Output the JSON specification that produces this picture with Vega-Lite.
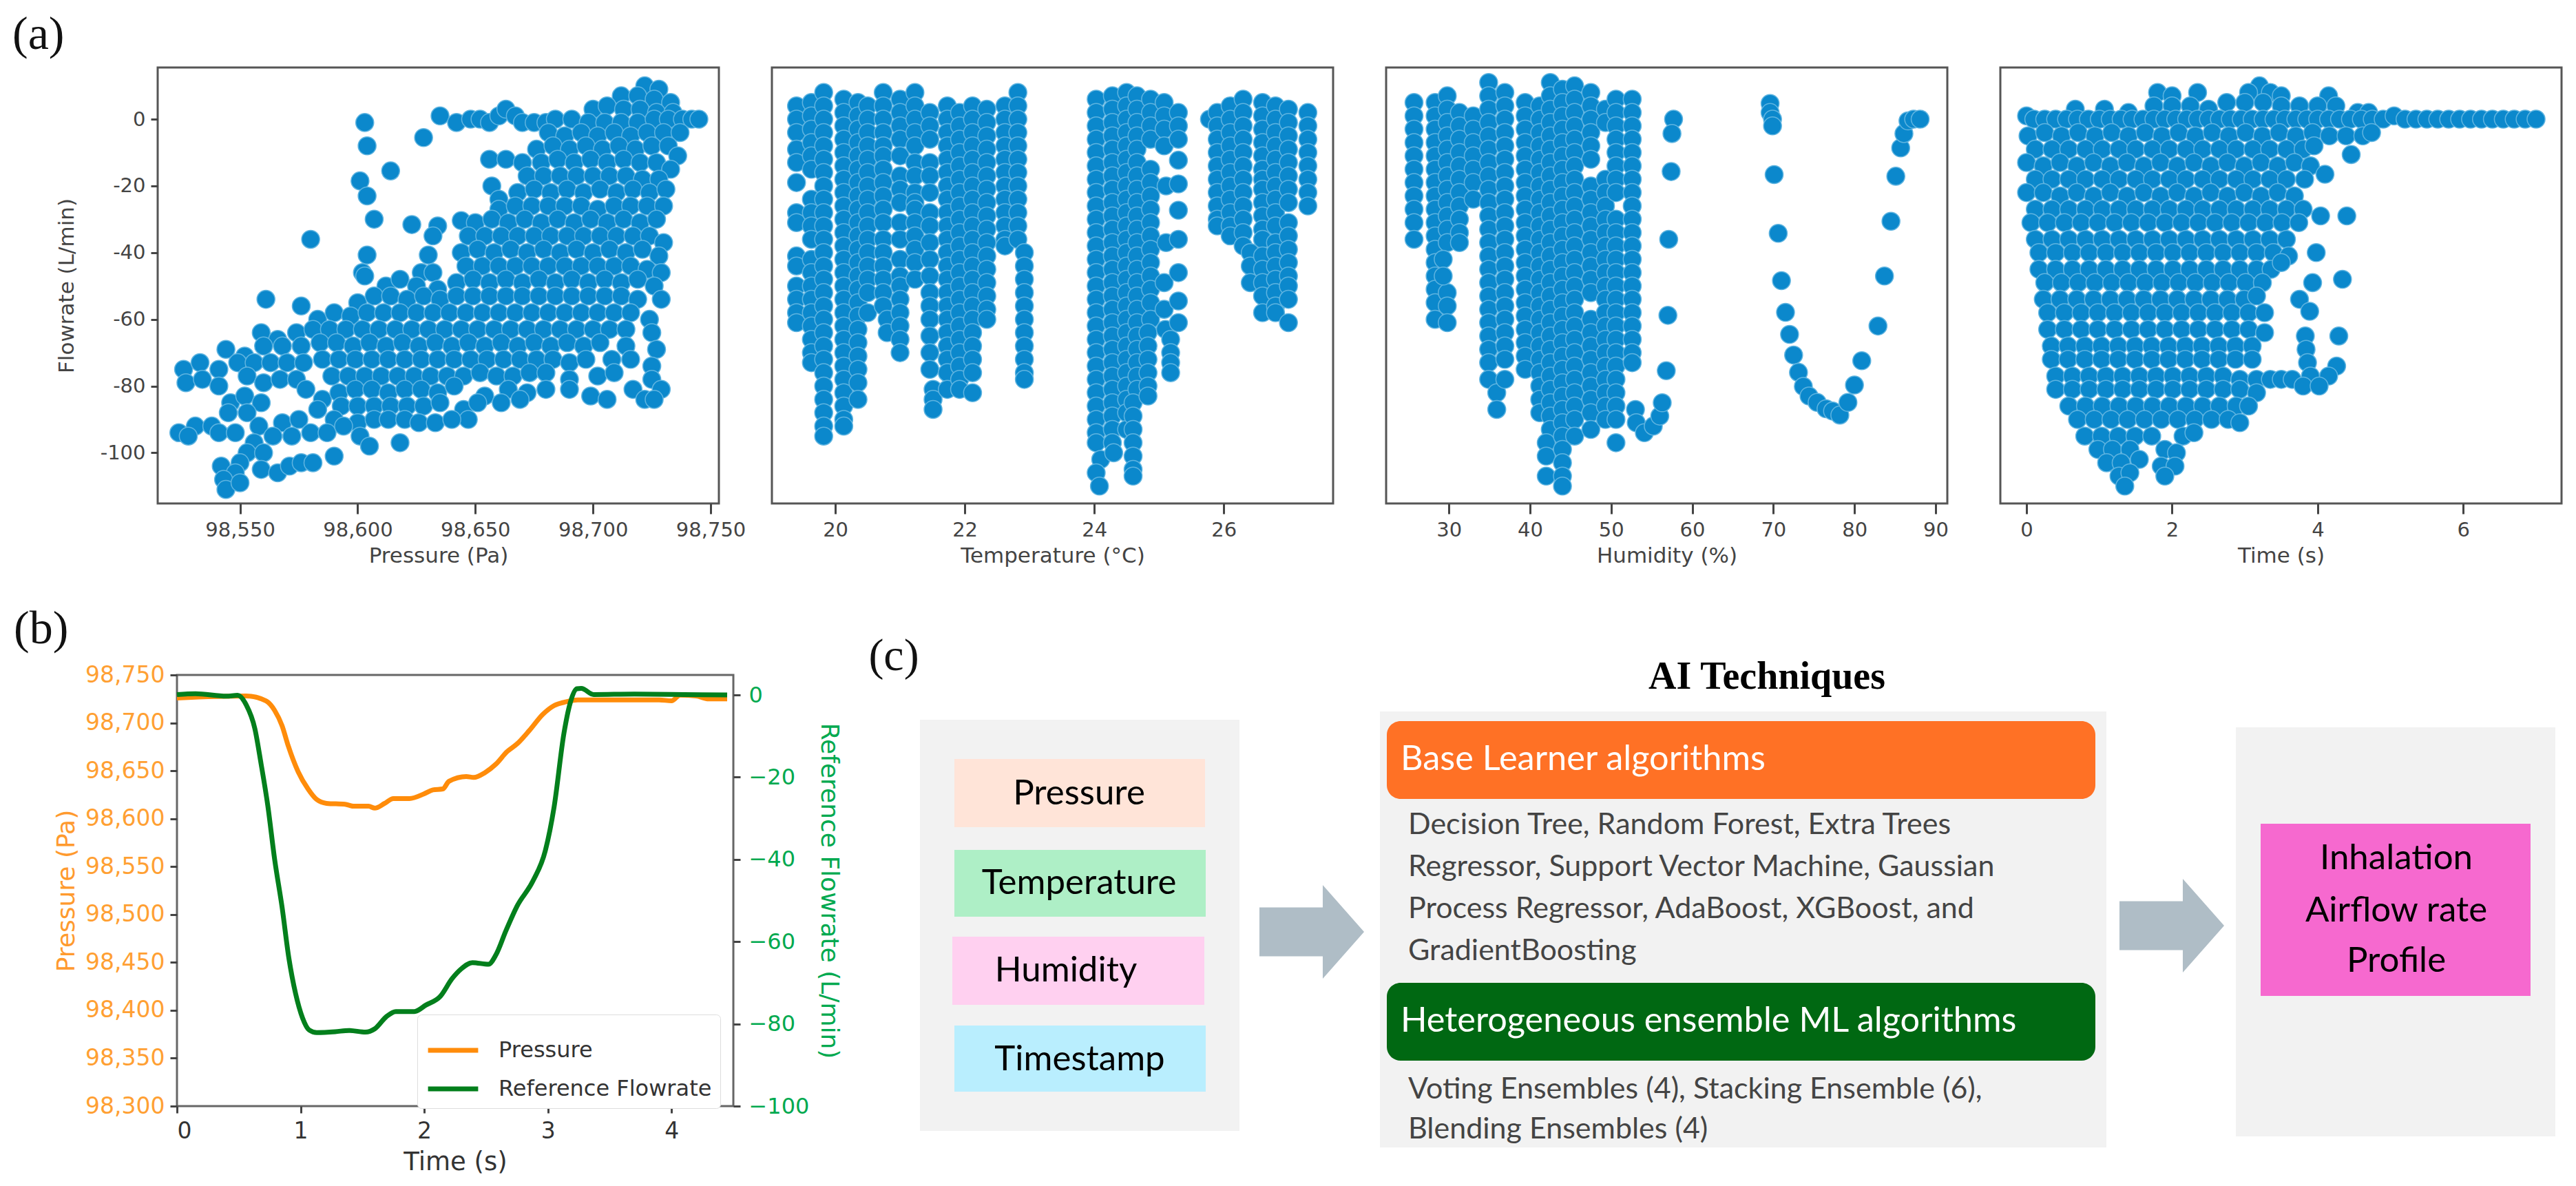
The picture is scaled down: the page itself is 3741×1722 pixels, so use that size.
{"$schema":"https://vega.github.io/schema/vega-lite/v6.json","background":"white","padding":{"left":0,"top":17,"right":0,"bottom":0},"spacing":56,"resolve":{"scale":{"color":"independent"},"legend":{"color":"independent"}},
"config":{"font":"DejaVu Sans","view":{"stroke":"#555","strokeWidth":3},"axis":{"grid":false,"domain":false,"tickColor":"#444","tickWidth":3,"tickSize":15,"labelColor":"#444","titleColor":"#444","labelFontSize":29,"titleFontSize":31,"titleFontWeight":"normal","labelPadding":9,"titlePadding":8}},
"datasets":{
"a":[{"x":98603,"y":-1},{"x":98604,"y":-8},{"x":98601,"y":-18.5},{"x":98604,"y":-23},{"x":98607,"y":-30},{"x":98604,"y":-40.7},{"x":98602,"y":-46},{"x":98603,"y":-47},{"x":98580,"y":-36},{"x":98561,"y":-54},{"x":98576,"y":-56},{"x":98623,"y":-31.6},{"x":98628,"y":-5.5},{"x":98614,"y":-15.5},{"x":98656,"y":-12},{"x":98663,"y":-12},{"x":98635,"y":1},{"x":98642,"y":-1},{"x":98648,"y":0},{"x":98652,"y":0},{"x":98656,"y":-1},{"x":98660,"y":1},{"x":98663,"y":3},{"x":98667,"y":1},{"x":98670,"y":-1},{"x":98675,"y":-1},{"x":98680,"y":-1},{"x":98634,"y":-32},{"x":98632,"y":-35},{"x":98644,"y":-30.4},{"x":98630,"y":-40.7},{"x":98627,"y":-46},{"x":98632,"y":-46},{"x":98657,"y":-20},{"x":98660,"y":-24},
{"x":98722,"y":10},{"x":98728,"y":9},{"x":98712,"y":7},{"x":98719,"y":7},{"x":98726,"y":6},{"x":98733,"y":5},{"x":98700,"y":3},{"x":98706,"y":4},{"x":98713,"y":3},{"x":98720,"y":3},{"x":98727,"y":2},{"x":98734,"y":2},{"x":98684,"y":0},{"x":98691,"y":0},{"x":98698,"y":-1},{"x":98705,"y":-1},{"x":98712,"y":-1},{"x":98719,"y":-1},{"x":98726,"y":0},{"x":98732,"y":0},{"x":98738,"y":0},{"x":98742,"y":0},{"x":98745,"y":0},
{"x":98681,"y":-4},{"x":98688,"y":-5},{"x":98695,"y":-4},{"x":98702,"y":-5},{"x":98709,"y":-4},{"x":98716,"y":-5},{"x":98723,"y":-4},{"x":98730,"y":-4},{"x":98737,"y":-4},
{"x":98676,"y":-9},{"x":98683,"y":-8},{"x":98690,"y":-9},{"x":98697,"y":-8},{"x":98704,"y":-9},{"x":98711,"y":-8},{"x":98718,"y":-9},{"x":98725,"y":-8},{"x":98732,"y":-8},{"x":98736,"y":-11},
{"x":98670,"y":-13},{"x":98678,"y":-13},{"x":98685,"y":-12},{"x":98692,"y":-13},{"x":98699,"y":-12},{"x":98706,"y":-13},{"x":98713,"y":-12},{"x":98720,"y":-13},{"x":98727,"y":-13},{"x":98733,"y":-15},
{"x":98672,"y":-17},{"x":98679,"y":-17},{"x":98686,"y":-17},{"x":98693,"y":-17},{"x":98700,"y":-17},{"x":98707,"y":-17},{"x":98714,"y":-17},{"x":98721,"y":-18},{"x":98728,"y":-18},
{"x":98668,"y":-22},{"x":98675,"y":-21},{"x":98682,"y":-22},{"x":98689,"y":-21},{"x":98696,"y":-22},{"x":98703,"y":-21},{"x":98710,"y":-22},{"x":98717,"y":-21},{"x":98724,"y":-22},{"x":98731,"y":-21},
{"x":98660,"y":-27},{"x":98667,"y":-26},{"x":98674,"y":-26},{"x":98681,"y":-26},{"x":98688,"y":-26},{"x":98695,"y":-26},{"x":98702,"y":-27},{"x":98709,"y":-26},{"x":98716,"y":-26},{"x":98723,"y":-26},{"x":98730,"y":-26},
{"x":98650,"y":-31},{"x":98657,"y":-30},{"x":98664,"y":-31},{"x":98671,"y":-30},{"x":98678,"y":-31},{"x":98685,"y":-30},{"x":98692,"y":-31},{"x":98699,"y":-30},{"x":98706,"y":-31},{"x":98713,"y":-30},{"x":98720,"y":-31},{"x":98727,"y":-30},
{"x":98647,"y":-35},{"x":98654,"y":-35},{"x":98661,"y":-35},{"x":98668,"y":-35},{"x":98675,"y":-35},{"x":98682,"y":-35},{"x":98689,"y":-35},{"x":98696,"y":-35},{"x":98703,"y":-35},{"x":98710,"y":-35},{"x":98717,"y":-35},{"x":98724,"y":-35},{"x":98730,"y":-37},
{"x":98644,"y":-40},{"x":98651,"y":-39},{"x":98658,"y":-40},{"x":98665,"y":-39},{"x":98672,"y":-40},{"x":98679,"y":-39},{"x":98686,"y":-40},{"x":98693,"y":-39},{"x":98700,"y":-40},{"x":98707,"y":-39},{"x":98714,"y":-40},{"x":98721,"y":-39},{"x":98728,"y":-41},
{"x":98646,"y":-44},{"x":98653,"y":-44},{"x":98660,"y":-44},{"x":98667,"y":-44},{"x":98674,"y":-44},{"x":98681,"y":-44},{"x":98688,"y":-44},{"x":98695,"y":-44},{"x":98702,"y":-44},{"x":98709,"y":-44},{"x":98716,"y":-44},{"x":98723,"y":-45},{"x":98729,"y":-46},
{"x":98612,"y":-50},{"x":98618,"y":-48},{"x":98625,"y":-50},{"x":98634,"y":-51},{"x":98642,"y":-49},{"x":98649,"y":-48},{"x":98656,"y":-49},{"x":98663,"y":-48},{"x":98670,"y":-49},{"x":98677,"y":-48},{"x":98684,"y":-49},{"x":98691,"y":-48},{"x":98698,"y":-49},{"x":98705,"y":-48},{"x":98712,"y":-49},{"x":98719,"y":-48},{"x":98726,"y":-50},
{"x":98600,"y":-55},{"x":98607,"y":-53},{"x":98614,"y":-53},{"x":98621,"y":-54},{"x":98628,"y":-53},{"x":98635,"y":-54},{"x":98642,"y":-53},{"x":98649,"y":-53},{"x":98656,"y":-53},{"x":98663,"y":-53},{"x":98670,"y":-53},{"x":98677,"y":-53},{"x":98684,"y":-53},{"x":98691,"y":-53},{"x":98698,"y":-53},{"x":98705,"y":-53},{"x":98712,"y":-53},{"x":98719,"y":-54},{"x":98729,"y":-54},
{"x":98583,"y":-60},{"x":98590,"y":-58},{"x":98597,"y":-59},{"x":98604,"y":-58},{"x":98611,"y":-58},{"x":98618,"y":-58},{"x":98625,"y":-58},{"x":98632,"y":-58},{"x":98639,"y":-58},{"x":98646,"y":-58},{"x":98653,"y":-58},{"x":98660,"y":-58},{"x":98667,"y":-58},{"x":98674,"y":-58},{"x":98681,"y":-58},{"x":98688,"y":-58},{"x":98695,"y":-58},{"x":98702,"y":-58},{"x":98709,"y":-58},{"x":98716,"y":-58},{"x":98724,"y":-60},
{"x":98559,"y":-64},{"x":98566,"y":-66},{"x":98574,"y":-64},{"x":98581,"y":-63},{"x":98588,"y":-63},{"x":98595,"y":-63},{"x":98602,"y":-63},{"x":98609,"y":-63},{"x":98616,"y":-63},{"x":98623,"y":-63},{"x":98630,"y":-63},{"x":98637,"y":-63},{"x":98644,"y":-63},{"x":98651,"y":-63},{"x":98658,"y":-63},{"x":98665,"y":-63},{"x":98672,"y":-63},{"x":98679,"y":-63},{"x":98686,"y":-63},{"x":98693,"y":-63},{"x":98700,"y":-63},{"x":98707,"y":-63},{"x":98714,"y":-63},{"x":98725,"y":-64},
{"x":98544,"y":-69},{"x":98552,"y":-71},{"x":98560,"y":-68},{"x":98568,"y":-68},{"x":98576,"y":-68},{"x":98584,"y":-67},{"x":98591,"y":-67},{"x":98598,"y":-68},{"x":98605,"y":-67},{"x":98612,"y":-68},{"x":98619,"y":-67},{"x":98626,"y":-68},{"x":98633,"y":-67},{"x":98640,"y":-68},{"x":98647,"y":-67},{"x":98654,"y":-68},{"x":98661,"y":-67},{"x":98668,"y":-68},{"x":98675,"y":-67},{"x":98682,"y":-68},{"x":98689,"y":-67},{"x":98696,"y":-68},{"x":98703,"y":-67},{"x":98714,"y":-68},{"x":98727,"y":-69},
{"x":98526,"y":-75},{"x":98533,"y":-73},{"x":98541,"y":-75},{"x":98549,"y":-73},{"x":98556,"y":-73},{"x":98563,"y":-73},{"x":98570,"y":-73},{"x":98577,"y":-73},{"x":98585,"y":-72},{"x":98592,"y":-72},{"x":98599,"y":-72},{"x":98606,"y":-72},{"x":98613,"y":-72},{"x":98620,"y":-72},{"x":98627,"y":-72},{"x":98634,"y":-72},{"x":98641,"y":-72},{"x":98648,"y":-72},{"x":98655,"y":-72},{"x":98662,"y":-72},{"x":98669,"y":-72},{"x":98676,"y":-72},{"x":98683,"y":-72},{"x":98690,"y":-73},{"x":98697,"y":-72},{"x":98708,"y":-72},{"x":98716,"y":-72},{"x":98725,"y":-74},
{"x":98527,"y":-79},{"x":98534,"y":-78},{"x":98541,"y":-80},{"x":98553,"y":-77},{"x":98560,"y":-79},{"x":98567,"y":-78},{"x":98574,"y":-78},{"x":98589,"y":-77},{"x":98596,"y":-77},{"x":98603,"y":-77},{"x":98610,"y":-77},{"x":98617,"y":-77},{"x":98624,"y":-77},{"x":98631,"y":-77},{"x":98638,"y":-77},{"x":98645,"y":-77},{"x":98652,"y":-76},{"x":98659,"y":-77},{"x":98666,"y":-77},{"x":98673,"y":-76},{"x":98680,"y":-76},{"x":98690,"y":-78},{"x":98702,"y":-77},{"x":98709,"y":-76},{"x":98725,"y":-78},
{"x":98578,"y":-81},{"x":98585,"y":-84},{"x":98592,"y":-82},{"x":98599,"y":-81},{"x":98606,"y":-81},{"x":98613,"y":-82},{"x":98620,"y":-81},{"x":98627,"y":-81},{"x":98634,"y":-82},{"x":98641,"y":-80},{"x":98664,"y":-81},{"x":98672,"y":-82},{"x":98680,"y":-81},{"x":98690,"y":-81},{"x":98699,"y":-83},{"x":98706,"y":-84},{"x":98717,"y":-81},{"x":98722,"y":-84},{"x":98729,"y":-81},{"x":98726,"y":-84},{"x":98654,"y":-83},{"x":98661,"y":-85},{"x":98669,"y":-84},
{"x":98546,"y":-85},{"x":98552,"y":-83},{"x":98559,"y":-85},{"x":98545,"y":-88},{"x":98553,"y":-88},{"x":98593,"y":-86},{"x":98600,"y":-86},{"x":98607,"y":-86},{"x":98614,"y":-86},{"x":98621,"y":-86},{"x":98628,"y":-86},{"x":98635,"y":-85},{"x":98645,"y":-87},{"x":98651,"y":-85},
{"x":98600,"y":-91},{"x":98607,"y":-90},{"x":98590,"y":-90},{"x":98583,"y":-87},{"x":98613,"y":-90},{"x":98620,"y":-90},{"x":98626,"y":-91},{"x":98633,"y":-91},{"x":98647,"y":-90},{"x":98640,"y":-90},
{"x":98524,"y":-94},{"x":98531,"y":-92},{"x":98538,"y":-92},{"x":98541,"y":-94},{"x":98548,"y":-94},{"x":98528,"y":-95},{"x":98558,"y":-92},{"x":98568,"y":-91},{"x":98575,"y":-90},{"x":98564,"y":-95},{"x":98572,"y":-95},{"x":98580,"y":-94},{"x":98587,"y":-94},{"x":98594,"y":-92},{"x":98601,"y":-95},{"x":98605,"y":-98},{"x":98618,"y":-97},
{"x":98556,"y":-97},{"x":98553,"y":-100},{"x":98560,"y":-100},{"x":98550,"y":-103},{"x":98542,"y":-104},{"x":98548,"y":-106},{"x":98543,"y":-108},{"x":98544,"y":-111},{"x":98550,"y":-109},{"x":98559,"y":-105},{"x":98566,"y":-106},{"x":98571,"y":-104},{"x":98576,"y":-103},{"x":98581,"y":-103},{"x":98590,"y":-101}],
"b":[{"x":19.4,"y":4},{"x":19.4,"y":0},{"x":19.4,"y":-4},{"x":19.4,"y":-9},{"x":19.4,"y":-13},{"x":19.4,"y":-19},{"x":19.4,"y":-28},{"x":19.4,"y":-31},{"x":19.4,"y":-41},{"x":19.4,"y":-44},{"x":19.4,"y":-50},{"x":19.4,"y":-54},{"x":19.4,"y":-58},{"x":19.4,"y":-61},
{"x":19.63,"y":5},{"x":19.63,"y":1},{"x":19.63,"y":-3},{"x":19.63,"y":-7},{"x":19.63,"y":-11},{"x":19.63,"y":-15},{"x":19.63,"y":-24},{"x":19.63,"y":-28},{"x":19.63,"y":-32},{"x":19.63,"y":-36},{"x":19.63,"y":-42},{"x":19.63,"y":-46},{"x":19.63,"y":-50},{"x":19.63,"y":-54},{"x":19.63,"y":-58},{"x":19.63,"y":-62},{"x":19.63,"y":-66},{"x":19.63,"y":-70},{"x":19.63,"y":-73},
{"x":19.82,"y":8},{"x":19.82,"y":4},{"x":19.82,"y":0},{"x":19.82,"y":-4},{"x":19.82,"y":-8},{"x":19.82,"y":-12},{"x":19.82,"y":-16},{"x":19.82,"y":-20},{"x":19.82,"y":-24},{"x":19.82,"y":-28},{"x":19.82,"y":-32},{"x":19.82,"y":-36},{"x":19.82,"y":-40},{"x":19.82,"y":-44},{"x":19.82,"y":-48},{"x":19.82,"y":-52},{"x":19.82,"y":-56},{"x":19.82,"y":-60},{"x":19.82,"y":-64},{"x":19.82,"y":-68},{"x":19.82,"y":-72},{"x":19.82,"y":-76},{"x":19.82,"y":-80},{"x":19.82,"y":-84},{"x":19.82,"y":-88},{"x":19.82,"y":-92},{"x":19.82,"y":-95},
{"x":20.13,"y":6},{"x":20.13,"y":2},{"x":20.13,"y":-2},{"x":20.13,"y":-6},{"x":20.13,"y":-10},{"x":20.13,"y":-14},{"x":20.13,"y":-18},{"x":20.13,"y":-22},{"x":20.13,"y":-26},{"x":20.13,"y":-30},{"x":20.13,"y":-34},{"x":20.13,"y":-38},{"x":20.13,"y":-42},{"x":20.13,"y":-46},{"x":20.13,"y":-50},{"x":20.13,"y":-54},{"x":20.13,"y":-58},{"x":20.13,"y":-62},{"x":20.13,"y":-66},{"x":20.13,"y":-70},{"x":20.13,"y":-74},{"x":20.13,"y":-78},{"x":20.13,"y":-82},{"x":20.13,"y":-86},{"x":20.13,"y":-90},{"x":20.13,"y":-92},
{"x":20.35,"y":5},{"x":20.35,"y":1},{"x":20.35,"y":-3},{"x":20.35,"y":-7},{"x":20.35,"y":-11},{"x":20.35,"y":-15},{"x":20.35,"y":-19},{"x":20.35,"y":-23},{"x":20.35,"y":-27},{"x":20.35,"y":-31},{"x":20.35,"y":-35},{"x":20.35,"y":-39},{"x":20.35,"y":-43},{"x":20.35,"y":-47},{"x":20.35,"y":-51},{"x":20.35,"y":-55},{"x":20.35,"y":-59},{"x":20.35,"y":-63},{"x":20.35,"y":-67},{"x":20.35,"y":-71},{"x":20.35,"y":-75},{"x":20.35,"y":-79},{"x":20.35,"y":-84},
{"x":20.5,"y":4},{"x":20.5,"y":0},{"x":20.5,"y":-4},{"x":20.5,"y":-8},{"x":20.5,"y":-12},{"x":20.5,"y":-16},{"x":20.5,"y":-20},{"x":20.5,"y":-24},{"x":20.5,"y":-28},{"x":20.5,"y":-32},{"x":20.5,"y":-36},{"x":20.5,"y":-40},{"x":20.5,"y":-44},{"x":20.5,"y":-48},{"x":20.5,"y":-52},{"x":20.5,"y":-58},
{"x":20.74,"y":8},{"x":20.74,"y":4},{"x":20.74,"y":0},{"x":20.74,"y":-4},{"x":20.74,"y":-8},{"x":20.74,"y":-11},{"x":20.74,"y":-15},{"x":20.74,"y":-19},{"x":20.74,"y":-23},{"x":20.74,"y":-27},{"x":20.74,"y":-31},{"x":20.74,"y":-36},{"x":20.74,"y":-40},{"x":20.74,"y":-44},{"x":20.74,"y":-48},{"x":20.74,"y":-52},{"x":20.74,"y":-56},{"x":20.8,"y":-60},{"x":20.8,"y":-64},
{"x":21,"y":6},{"x":21,"y":2},{"x":21,"y":-2},{"x":21,"y":-6},{"x":21,"y":-11},{"x":21,"y":-17},{"x":21,"y":-21},{"x":21,"y":-25},{"x":21,"y":-31},{"x":21,"y":-36},{"x":21,"y":-42},{"x":21,"y":-47},{"x":21,"y":-50},{"x":21,"y":-54},{"x":21,"y":-58},{"x":21,"y":-62},{"x":21,"y":-66},{"x":21,"y":-70},
{"x":21.23,"y":8},{"x":21.23,"y":4},{"x":21.23,"y":0},{"x":21.23,"y":-4},{"x":21.23,"y":-8},{"x":21.23,"y":-13},{"x":21.23,"y":-17},{"x":21.23,"y":-22},{"x":21.23,"y":-25},{"x":21.23,"y":-27},{"x":21.23,"y":-31},{"x":21.23,"y":-35},{"x":21.23,"y":-39},{"x":21.23,"y":-43},{"x":21.23,"y":-48},
{"x":21.46,"y":2},{"x":21.46,"y":-2},{"x":21.46,"y":-6},{"x":21.46,"y":-13},{"x":21.46,"y":-17},{"x":21.46,"y":-22},{"x":21.46,"y":-28},{"x":21.46,"y":-32},{"x":21.46,"y":-37},{"x":21.46,"y":-42},{"x":21.46,"y":-47},{"x":21.46,"y":-52},{"x":21.46,"y":-56},{"x":21.46,"y":-60},{"x":21.46,"y":-65},{"x":21.46,"y":-70},{"x":21.46,"y":-75},{"x":21.51,"y":-81},{"x":21.51,"y":-84},{"x":21.51,"y":-87},
{"x":21.73,"y":4},{"x":21.73,"y":0},{"x":21.73,"y":-4},{"x":21.73,"y":-8},{"x":21.73,"y":-12},{"x":21.73,"y":-16},{"x":21.73,"y":-20},{"x":21.73,"y":-24},{"x":21.73,"y":-28},{"x":21.73,"y":-32},{"x":21.73,"y":-36},{"x":21.73,"y":-40},{"x":21.73,"y":-44},{"x":21.73,"y":-48},{"x":21.73,"y":-52},{"x":21.73,"y":-56},{"x":21.73,"y":-60},{"x":21.73,"y":-64},{"x":21.73,"y":-68},{"x":21.73,"y":-72},{"x":21.73,"y":-76},{"x":21.73,"y":-81},
{"x":21.92,"y":2},{"x":21.92,"y":-2},{"x":21.92,"y":-6},{"x":21.92,"y":-10},{"x":21.92,"y":-14},{"x":21.92,"y":-18},{"x":21.92,"y":-22},{"x":21.92,"y":-26},{"x":21.92,"y":-30},{"x":21.92,"y":-34},{"x":21.92,"y":-38},{"x":21.92,"y":-42},{"x":21.92,"y":-46},{"x":21.92,"y":-50},{"x":21.92,"y":-54},{"x":21.92,"y":-58},{"x":21.92,"y":-62},{"x":21.92,"y":-66},{"x":21.92,"y":-70},{"x":21.92,"y":-74},{"x":21.92,"y":-78},{"x":21.92,"y":-81},
{"x":22.12,"y":4},{"x":22.12,"y":0},{"x":22.12,"y":-4},{"x":22.12,"y":-8},{"x":22.12,"y":-12},{"x":22.12,"y":-16},{"x":22.12,"y":-20},{"x":22.12,"y":-24},{"x":22.12,"y":-28},{"x":22.12,"y":-32},{"x":22.12,"y":-36},{"x":22.12,"y":-40},{"x":22.12,"y":-44},{"x":22.12,"y":-48},{"x":22.12,"y":-52},{"x":22.12,"y":-56},{"x":22.12,"y":-60},{"x":22.12,"y":-64},{"x":22.12,"y":-68},{"x":22.12,"y":-72},{"x":22.12,"y":-76},{"x":22.12,"y":-82},
{"x":22.34,"y":3},{"x":22.34,"y":-1},{"x":22.34,"y":-5},{"x":22.34,"y":-9},{"x":22.34,"y":-13},{"x":22.34,"y":-17},{"x":22.34,"y":-21},{"x":22.34,"y":-25},{"x":22.34,"y":-29},{"x":22.34,"y":-33},{"x":22.34,"y":-37},{"x":22.34,"y":-41},{"x":22.34,"y":-45},{"x":22.34,"y":-49},{"x":22.34,"y":-53},{"x":22.34,"y":-57},{"x":22.34,"y":-60},
{"x":22.62,"y":4},{"x":22.62,"y":0},{"x":22.62,"y":-4},{"x":22.62,"y":-8},{"x":22.62,"y":-12},{"x":22.62,"y":-16},{"x":22.62,"y":-20},{"x":22.62,"y":-24},{"x":22.62,"y":-28},{"x":22.62,"y":-32},{"x":22.62,"y":-36},{"x":22.62,"y":-38},
{"x":22.82,"y":8},{"x":22.82,"y":4},{"x":22.82,"y":0},{"x":22.82,"y":-4},{"x":22.82,"y":-8},{"x":22.82,"y":-12},{"x":22.82,"y":-16},{"x":22.82,"y":-20},{"x":22.82,"y":-24},{"x":22.82,"y":-28},{"x":22.82,"y":-32},{"x":22.82,"y":-36},{"x":22.92,"y":-40},{"x":22.92,"y":-44},{"x":22.92,"y":-48},{"x":22.92,"y":-52},{"x":22.92,"y":-56},{"x":22.92,"y":-60},{"x":22.92,"y":-64},{"x":22.92,"y":-68},{"x":22.92,"y":-72},{"x":22.92,"y":-76},{"x":22.92,"y":-78},
{"x":24.03,"y":6},{"x":24.03,"y":2},{"x":24.03,"y":-2},{"x":24.03,"y":-6},{"x":24.03,"y":-10},{"x":24.03,"y":-14},{"x":24.03,"y":-18},{"x":24.03,"y":-22},{"x":24.03,"y":-26},{"x":24.03,"y":-30},{"x":24.03,"y":-34},{"x":24.03,"y":-38},{"x":24.03,"y":-42},{"x":24.03,"y":-46},{"x":24.03,"y":-50},{"x":24.03,"y":-54},{"x":24.03,"y":-58},{"x":24.03,"y":-62},{"x":24.03,"y":-66},{"x":24.03,"y":-70},{"x":24.03,"y":-74},{"x":24.03,"y":-78},{"x":24.03,"y":-82},{"x":24.03,"y":-86},{"x":24.03,"y":-90},{"x":24.03,"y":-94},{"x":24.03,"y":-97},{"x":24.1,"y":-102},{"x":24.03,"y":-106},{"x":24.08,"y":-110},
{"x":24.28,"y":7},{"x":24.28,"y":3},{"x":24.28,"y":-1},{"x":24.28,"y":-5},{"x":24.28,"y":-9},{"x":24.28,"y":-13},{"x":24.28,"y":-17},{"x":24.28,"y":-21},{"x":24.28,"y":-25},{"x":24.28,"y":-29},{"x":24.28,"y":-33},{"x":24.28,"y":-37},{"x":24.28,"y":-41},{"x":24.28,"y":-45},{"x":24.28,"y":-49},{"x":24.28,"y":-53},{"x":24.28,"y":-57},{"x":24.28,"y":-61},{"x":24.28,"y":-65},{"x":24.28,"y":-69},{"x":24.28,"y":-73},{"x":24.28,"y":-77},{"x":24.28,"y":-81},{"x":24.28,"y":-85},{"x":24.28,"y":-89},{"x":24.28,"y":-93},{"x":24.28,"y":-97},{"x":24.3,"y":-100},
{"x":24.5,"y":8},{"x":24.5,"y":4},{"x":24.5,"y":0},{"x":24.5,"y":-4},{"x":24.5,"y":-8},{"x":24.5,"y":-12},{"x":24.5,"y":-16},{"x":24.5,"y":-20},{"x":24.5,"y":-24},{"x":24.5,"y":-28},{"x":24.5,"y":-32},{"x":24.5,"y":-36},{"x":24.5,"y":-40},{"x":24.5,"y":-44},{"x":24.5,"y":-48},{"x":24.5,"y":-52},{"x":24.5,"y":-56},{"x":24.5,"y":-60},{"x":24.5,"y":-64},{"x":24.5,"y":-68},{"x":24.5,"y":-72},{"x":24.5,"y":-76},{"x":24.5,"y":-80},{"x":24.5,"y":-84},{"x":24.5,"y":-88},{"x":24.5,"y":-93},
{"x":24.66,"y":7},{"x":24.66,"y":3},{"x":24.66,"y":-1},{"x":24.66,"y":-5},{"x":24.66,"y":-9},{"x":24.66,"y":-13},{"x":24.66,"y":-17},{"x":24.66,"y":-21},{"x":24.66,"y":-25},{"x":24.66,"y":-29},{"x":24.66,"y":-33},{"x":24.66,"y":-37},{"x":24.66,"y":-41},{"x":24.66,"y":-45},{"x":24.66,"y":-49},{"x":24.66,"y":-53},{"x":24.66,"y":-57},{"x":24.66,"y":-61},{"x":24.66,"y":-65},{"x":24.66,"y":-69},{"x":24.66,"y":-73},{"x":24.66,"y":-77},{"x":24.66,"y":-81},{"x":24.6,"y":-85},{"x":24.6,"y":-89},{"x":24.6,"y":-93},{"x":24.6,"y":-97},{"x":24.6,"y":-101},{"x":24.6,"y":-105},{"x":24.6,"y":-107},
{"x":24.87,"y":6},{"x":24.87,"y":2},{"x":24.87,"y":-2},{"x":24.87,"y":-6},{"x":24.87,"y":-15},{"x":24.87,"y":-19},{"x":24.87,"y":-23},{"x":24.87,"y":-27},{"x":24.87,"y":-31},{"x":24.87,"y":-35},{"x":24.87,"y":-39},{"x":24.87,"y":-43},{"x":24.87,"y":-47},{"x":24.87,"y":-51},{"x":24.87,"y":-55},{"x":24.87,"y":-60},{"x":24.83,"y":-64},{"x":24.83,"y":-68},{"x":24.83,"y":-72},{"x":24.83,"y":-76},{"x":24.83,"y":-80},{"x":24.83,"y":-83},
{"x":25.08,"y":5},{"x":25.08,"y":1},{"x":25.08,"y":-3},{"x":25.08,"y":-8},{"x":25.11,"y":-20},{"x":25.11,"y":-37},{"x":25.08,"y":-49},{"x":25.08,"y":-57},{"x":25.1,"y":-63},{"x":25.18,"y":-66},{"x":25.18,"y":-70},{"x":25.18,"y":-73},{"x":25.18,"y":-76},
{"x":25.3,"y":2},{"x":25.3,"y":-2},{"x":25.3,"y":-6},{"x":25.3,"y":-12.3},{"x":25.3,"y":-19.4},{"x":25.3,"y":-27.3},{"x":25.3,"y":-36},{"x":25.3,"y":-46},{"x":25.3,"y":-54.5},{"x":25.3,"y":-61},
{"x":25.78,"y":0},{"x":25.9,"y":2},{"x":25.9,"y":-2},{"x":25.9,"y":-6},{"x":25.9,"y":-10},{"x":25.9,"y":-14},{"x":25.9,"y":-18},{"x":25.9,"y":-22},{"x":25.9,"y":-26},{"x":25.9,"y":-30},{"x":25.9,"y":-32},
{"x":26.1,"y":4},{"x":26.1,"y":0},{"x":26.1,"y":-4},{"x":26.1,"y":-8},{"x":26.1,"y":-12},{"x":26.1,"y":-16},{"x":26.1,"y":-20},{"x":26.1,"y":-24},{"x":26.1,"y":-28},{"x":26.1,"y":-32},{"x":26.1,"y":-35},
{"x":26.3,"y":6},{"x":26.3,"y":2},{"x":26.3,"y":-2},{"x":26.3,"y":-6},{"x":26.3,"y":-10},{"x":26.3,"y":-14},{"x":26.3,"y":-18},{"x":26.3,"y":-22},{"x":26.3,"y":-26},{"x":26.3,"y":-30},{"x":26.3,"y":-34},{"x":26.3,"y":-38},{"x":26.41,"y":-40},{"x":26.41,"y":-44},{"x":26.41,"y":-49},
{"x":26.6,"y":5},{"x":26.6,"y":1},{"x":26.6,"y":-3},{"x":26.6,"y":-7},{"x":26.6,"y":-11},{"x":26.6,"y":-15},{"x":26.6,"y":-18},{"x":26.6,"y":-21},{"x":26.6,"y":-25},{"x":26.6,"y":-29},{"x":26.6,"y":-33},{"x":26.6,"y":-36},{"x":26.6,"y":-41},{"x":26.6,"y":-45},{"x":26.6,"y":-49},{"x":26.6,"y":-53},{"x":26.6,"y":-58},
{"x":26.8,"y":4},{"x":26.8,"y":0},{"x":26.8,"y":-4},{"x":26.8,"y":-8},{"x":26.8,"y":-12},{"x":26.8,"y":-16},{"x":26.8,"y":-20},{"x":26.8,"y":-24},{"x":26.8,"y":-28},{"x":26.8,"y":-32},{"x":26.8,"y":-37},{"x":26.8,"y":-40},{"x":26.8,"y":-44},{"x":26.8,"y":-48},{"x":26.8,"y":-52},{"x":26.8,"y":-56},{"x":26.8,"y":-58},
{"x":27,"y":3},{"x":27,"y":-1},{"x":27,"y":-5},{"x":27,"y":-9},{"x":27,"y":-13},{"x":27,"y":-17},{"x":27,"y":-21},{"x":27,"y":-25},{"x":27,"y":-31},{"x":27,"y":-35},{"x":27,"y":-39},{"x":27,"y":-43},{"x":27,"y":-47},{"x":27,"y":-50},{"x":27,"y":-54},{"x":27,"y":-61},
{"x":27.3,"y":2},{"x":27.3,"y":-2},{"x":27.3,"y":-6},{"x":27.3,"y":-10},{"x":27.3,"y":-14},{"x":27.3,"y":-18},{"x":27.3,"y":-22},{"x":27.3,"y":-26}],
"c":[{"x":25.7,"y":5},{"x":25.7,"y":1},{"x":25.7,"y":-3},{"x":25.7,"y":-7},{"x":25.7,"y":-11},{"x":25.7,"y":-15},{"x":25.7,"y":-19},{"x":25.7,"y":-23},{"x":25.7,"y":-27},{"x":25.7,"y":-31},{"x":25.7,"y":-36},
{"x":28.3,"y":5},{"x":28.3,"y":1},{"x":28.3,"y":-3},{"x":28.3,"y":-7},{"x":28.3,"y":-11},{"x":28.3,"y":-15},{"x":28.3,"y":-19},{"x":28.3,"y":-23},{"x":28.3,"y":-27},{"x":28.3,"y":-31},{"x":28.3,"y":-35},{"x":28.3,"y":-39},{"x":28.3,"y":-43},{"x":28.3,"y":-47},{"x":28.3,"y":-51},{"x":28.3,"y":-55},{"x":28.3,"y":-60},
{"x":29.8,"y":7},{"x":29.8,"y":3},{"x":29.8,"y":-1},{"x":29.8,"y":-5},{"x":29.8,"y":-9},{"x":29.8,"y":-13},{"x":29.8,"y":-17},{"x":29.8,"y":-21},{"x":29.8,"y":-25},{"x":29.8,"y":-29},{"x":29.8,"y":-33},{"x":29.8,"y":-37},{"x":29.8,"y":-52},{"x":29.8,"y":-56},{"x":29.8,"y":-61},{"x":29.3,"y":-42},{"x":29.3,"y":-47},
{"x":31.3,"y":2},{"x":31.3,"y":-2},{"x":31.3,"y":-6},{"x":31.3,"y":-10},{"x":31.3,"y":-14},{"x":31.3,"y":-18},{"x":31.3,"y":-22},{"x":31.3,"y":-26},{"x":31.3,"y":-30},{"x":31.3,"y":-34},{"x":31.3,"y":-37},
{"x":33,"y":1},{"x":33,"y":-3},{"x":33,"y":-7},{"x":33,"y":-11},{"x":33,"y":-15},{"x":33,"y":-19},{"x":33,"y":-24},
{"x":34.9,"y":11},{"x":34.9,"y":7},{"x":34.9,"y":3},{"x":34.9,"y":-1},{"x":34.9,"y":-5},{"x":34.9,"y":-9},{"x":34.9,"y":-13},{"x":34.9,"y":-17},{"x":34.9,"y":-21},{"x":34.9,"y":-25},{"x":34.9,"y":-29},{"x":34.9,"y":-33},{"x":34.9,"y":-37},{"x":34.9,"y":-41},{"x":34.9,"y":-45},{"x":34.9,"y":-49},{"x":34.9,"y":-53},{"x":34.9,"y":-57},{"x":34.9,"y":-61},{"x":34.9,"y":-65},{"x":34.9,"y":-69},{"x":34.9,"y":-73},{"x":34.9,"y":-78},{"x":35.9,"y":-82},{"x":35.9,"y":-87},
{"x":36.9,"y":8},{"x":36.9,"y":4},{"x":36.9,"y":0},{"x":36.9,"y":-4},{"x":36.9,"y":-8},{"x":36.9,"y":-12},{"x":36.9,"y":-16},{"x":36.9,"y":-20},{"x":36.9,"y":-24},{"x":36.9,"y":-28},{"x":36.9,"y":-32},{"x":36.9,"y":-36},{"x":36.9,"y":-40},{"x":36.9,"y":-44},{"x":36.9,"y":-48},{"x":36.9,"y":-52},{"x":36.9,"y":-56},{"x":36.9,"y":-60},{"x":36.9,"y":-64},{"x":36.9,"y":-68},{"x":36.9,"y":-72},{"x":36.9,"y":-78},
{"x":39.4,"y":5},{"x":39.4,"y":1},{"x":39.4,"y":-3},{"x":39.4,"y":-7},{"x":39.4,"y":-11},{"x":39.4,"y":-15},{"x":39.4,"y":-19},{"x":39.4,"y":-23},{"x":39.4,"y":-27},{"x":39.4,"y":-31},{"x":39.4,"y":-35},{"x":39.4,"y":-39},{"x":39.4,"y":-43},{"x":39.4,"y":-47},{"x":39.4,"y":-51},{"x":39.4,"y":-55},{"x":39.4,"y":-59},{"x":39.4,"y":-63},{"x":39.4,"y":-67},{"x":39.4,"y":-71},{"x":39.4,"y":-75},
{"x":41.2,"y":4},{"x":41.2,"y":0},{"x":41.2,"y":-4},{"x":41.2,"y":-8},{"x":41.2,"y":-12},{"x":41.2,"y":-16},{"x":41.2,"y":-20},{"x":41.2,"y":-24},{"x":41.2,"y":-28},{"x":41.2,"y":-32},{"x":41.2,"y":-36},{"x":41.2,"y":-40},{"x":41.2,"y":-44},{"x":41.2,"y":-48},{"x":41.2,"y":-52},{"x":41.2,"y":-56},{"x":41.2,"y":-60},{"x":41.2,"y":-64},{"x":41.2,"y":-68},{"x":41.2,"y":-72},{"x":41.2,"y":-76},{"x":41.2,"y":-80},{"x":41.2,"y":-84},{"x":41.2,"y":-88},
{"x":42.5,"y":11},{"x":42.5,"y":7},{"x":42.5,"y":3},{"x":42.5,"y":-1},{"x":42.5,"y":-5},{"x":42.5,"y":-9},{"x":42.5,"y":-13},{"x":42.5,"y":-17},{"x":42.5,"y":-21},{"x":42.5,"y":-25},{"x":42.5,"y":-29},{"x":42.5,"y":-33},{"x":42.5,"y":-37},{"x":42.5,"y":-41},{"x":42.5,"y":-45},{"x":42.5,"y":-49},{"x":42.5,"y":-53},{"x":42.5,"y":-57},{"x":42.5,"y":-61},{"x":42.5,"y":-65},{"x":42.5,"y":-69},{"x":42.5,"y":-73},{"x":42.5,"y":-77},{"x":42.5,"y":-81},{"x":42.5,"y":-85},{"x":42.5,"y":-89},{"x":42.5,"y":-93},{"x":42,"y":-97},{"x":42,"y":-101},{"x":42,"y":-107},
{"x":44,"y":9},{"x":44,"y":5},{"x":44,"y":1},{"x":44,"y":-3},{"x":44,"y":-7},{"x":44,"y":-11},{"x":44,"y":-15},{"x":44,"y":-19},{"x":44,"y":-23},{"x":44,"y":-27},{"x":44,"y":-31},{"x":44,"y":-35},{"x":44,"y":-39},{"x":44,"y":-43},{"x":44,"y":-47},{"x":44,"y":-51},{"x":44,"y":-55},{"x":44,"y":-59},{"x":44,"y":-63},{"x":44,"y":-67},{"x":44,"y":-71},{"x":44,"y":-75},{"x":44,"y":-79},{"x":44,"y":-83},{"x":44,"y":-87},{"x":44,"y":-91},{"x":44,"y":-95},{"x":44,"y":-99},{"x":44,"y":-103},{"x":44,"y":-107},{"x":44,"y":-110},
{"x":45.5,"y":10},{"x":45.5,"y":6},{"x":45.5,"y":2},{"x":45.5,"y":-2},{"x":45.5,"y":-6},{"x":45.5,"y":-10},{"x":45.5,"y":-14},{"x":45.5,"y":-18},{"x":45.5,"y":-22},{"x":45.5,"y":-26},{"x":45.5,"y":-30},{"x":45.5,"y":-34},{"x":45.5,"y":-38},{"x":45.5,"y":-42},{"x":45.5,"y":-46},{"x":45.5,"y":-50},{"x":45.5,"y":-54},{"x":45.5,"y":-58},{"x":45.5,"y":-62},{"x":45.5,"y":-66},{"x":45.5,"y":-70},{"x":45.5,"y":-74},{"x":45.5,"y":-78},{"x":45.5,"y":-82},{"x":45.5,"y":-86},{"x":45.5,"y":-90},{"x":45.5,"y":-95},
{"x":47.5,"y":8},{"x":47.5,"y":4},{"x":47.5,"y":0},{"x":47.5,"y":-4},{"x":47.5,"y":-8},{"x":47.5,"y":-12},{"x":47.5,"y":-20},{"x":47.5,"y":-24},{"x":47.5,"y":-28},{"x":47.5,"y":-32},{"x":47.5,"y":-36},{"x":47.5,"y":-40},{"x":47.5,"y":-44},{"x":47.5,"y":-48},{"x":47.5,"y":-52},{"x":47.5,"y":-60},{"x":47.5,"y":-64},{"x":47.5,"y":-68},{"x":47.5,"y":-72},{"x":47.5,"y":-76},{"x":47.5,"y":-80},{"x":47.5,"y":-84},{"x":47.5,"y":-88},{"x":47.5,"y":-93},
{"x":49.3,"y":3},{"x":49.3,"y":-1},{"x":49.3,"y":-18},{"x":49.3,"y":-22},{"x":49.3,"y":-26},{"x":49.3,"y":-30},{"x":49.3,"y":-34},{"x":49.3,"y":-38},{"x":49.3,"y":-42},{"x":49.3,"y":-46},{"x":49.3,"y":-50},{"x":49.3,"y":-54},{"x":49.3,"y":-58},{"x":49.3,"y":-62},{"x":49.3,"y":-66},{"x":49.3,"y":-70},{"x":49.3,"y":-74},{"x":49.3,"y":-78},{"x":49.3,"y":-82},{"x":49.3,"y":-86},{"x":49.3,"y":-90},
{"x":50.6,"y":6},{"x":50.6,"y":2},{"x":50.6,"y":-2},{"x":50.6,"y":-6},{"x":50.6,"y":-10},{"x":50.6,"y":-14},{"x":50.6,"y":-18},{"x":50.6,"y":-22},{"x":50.6,"y":-30},{"x":50.6,"y":-34},{"x":50.6,"y":-38},{"x":50.6,"y":-42},{"x":50.6,"y":-46},{"x":50.6,"y":-50},{"x":50.6,"y":-54},{"x":50.6,"y":-58},{"x":50.6,"y":-62},{"x":50.6,"y":-66},{"x":50.6,"y":-70},{"x":50.6,"y":-74},{"x":50.6,"y":-78},{"x":50.6,"y":-82},{"x":50.6,"y":-86},{"x":50.6,"y":-90},{"x":50.6,"y":-97},
{"x":52.6,"y":6},{"x":52.6,"y":2},{"x":52.6,"y":-2},{"x":52.6,"y":-6},{"x":52.6,"y":-10},{"x":52.6,"y":-14},{"x":52.6,"y":-18},{"x":52.6,"y":-22},{"x":52.6,"y":-26},{"x":52.6,"y":-30},{"x":52.6,"y":-34},{"x":52.6,"y":-38},{"x":52.6,"y":-42},{"x":52.6,"y":-46},{"x":52.6,"y":-50},{"x":52.6,"y":-54},{"x":52.6,"y":-58},{"x":52.6,"y":-62},{"x":52.6,"y":-66},{"x":52.6,"y":-70},{"x":52.6,"y":-73},{"x":53,"y":-87},{"x":53.1,"y":-91},{"x":54.1,"y":-94},{"x":55.2,"y":-92},{"x":56,"y":-89},{"x":56.3,"y":-85},
{"x":57.7,"y":0},{"x":57.5,"y":-4.3},{"x":57.4,"y":-15.7},{"x":57.1,"y":-36},{"x":57,"y":-58.8},{"x":56.8,"y":-75.4},
{"x":69.6,"y":4.7},{"x":69.6,"y":2},{"x":69.9,"y":0},{"x":69.9,"y":-2},{"x":70.1,"y":-16.6},{"x":70.6,"y":-34.2},{"x":71,"y":-48.4},{"x":71.5,"y":-57.9},{"x":72,"y":-64.5},{"x":72.5,"y":-70.7},{"x":73.1,"y":-75.9},{"x":73.7,"y":-80.1},{"x":74.4,"y":-83},{"x":75.4,"y":-84.9},{"x":76.5,"y":-86.8},{"x":77.3,"y":-87.5},{"x":78.2,"y":-88.7},{"x":79.2,"y":-84.9},{"x":80,"y":-79.7},{"x":80.9,"y":-72.4},{"x":82.9,"y":-62},{"x":83.7,"y":-47},{"x":84.5,"y":-30.6},{"x":85.1,"y":-17.1},{"x":85.7,"y":-8.6},{"x":86.1,"y":-4.3},{"x":86.6,"y":-0.5},{"x":87.3,"y":0},{"x":88.1,"y":0}],
"d":[{"x":3.2,"y":10},{"x":1.8,"y":8},{"x":2,"y":7},{"x":2.35,"y":8},{"x":3.05,"y":8},{"x":3.35,"y":8},{"x":3.5,"y":7},{"x":4.15,"y":7},{"x":1.75,"y":4},{"x":2,"y":4},{"x":2.25,"y":4},{"x":2.5,"y":3},{"x":2.75,"y":5},{"x":3,"y":5},{"x":3.25,"y":5},{"x":3.5,"y":4},{"x":3.75,"y":4},{"x":4,"y":4},{"x":4.25,"y":4},{"x":0.67,"y":3},{"x":1.07,"y":3},{"x":1.4,"y":2},{"x":4.55,"y":2},{"x":4.7,"y":2},
{"x":0,"y":1},{"x":0.1,"y":0},{"x":0.25,"y":0},{"x":0.4,"y":0},{"x":0.55,"y":0},{"x":0.7,"y":0},{"x":0.85,"y":0},{"x":1,"y":0},{"x":1.15,"y":0},{"x":1.3,"y":0},{"x":1.45,"y":0},{"x":1.6,"y":0},{"x":1.75,"y":0},{"x":1.9,"y":0},{"x":2.05,"y":0},{"x":2.2,"y":0},{"x":2.35,"y":0},{"x":2.5,"y":0},{"x":2.65,"y":0},{"x":2.8,"y":0},{"x":2.95,"y":0},{"x":3.1,"y":0},{"x":3.25,"y":0},{"x":3.4,"y":0},{"x":3.55,"y":0},{"x":3.7,"y":0},{"x":3.85,"y":0},{"x":4,"y":0},{"x":4.15,"y":0},{"x":4.3,"y":0},{"x":4.45,"y":0},{"x":4.6,"y":0},{"x":4.75,"y":0},{"x":4.9,"y":0},{"x":5.05,"y":1},{"x":5.2,"y":0},{"x":5.35,"y":0},{"x":5.5,"y":0},{"x":5.65,"y":0},{"x":5.8,"y":0},{"x":5.95,"y":0},{"x":6.1,"y":0},{"x":6.25,"y":0},{"x":6.4,"y":0},{"x":6.55,"y":0},{"x":6.7,"y":0},{"x":6.85,"y":0},{"x":7,"y":0},
{"x":0.02,"y":-5},{"x":0.25,"y":-4},{"x":0.48,"y":-5},{"x":0.71,"y":-4},{"x":0.94,"y":-5},{"x":1.17,"y":-4},{"x":1.4,"y":-5},{"x":1.63,"y":-4},{"x":1.86,"y":-5},{"x":2.09,"y":-4},{"x":2.32,"y":-5},{"x":2.55,"y":-4},{"x":2.78,"y":-5},{"x":3.01,"y":-4},{"x":3.24,"y":-5},{"x":3.47,"y":-4},{"x":3.7,"y":-5},{"x":3.93,"y":-4},{"x":4.16,"y":-5},{"x":4.39,"y":-5},{"x":4.62,"y":-5},{"x":4.74,"y":-4},
{"x":0.12,"y":-9},{"x":0.35,"y":-9},{"x":0.58,"y":-9},{"x":0.81,"y":-9},{"x":1.04,"y":-9},{"x":1.27,"y":-9},{"x":1.5,"y":-9},{"x":1.73,"y":-9},{"x":1.96,"y":-9},{"x":2.19,"y":-9},{"x":2.42,"y":-9},{"x":2.65,"y":-9},{"x":2.88,"y":-9},{"x":3.11,"y":-9},{"x":3.34,"y":-9},{"x":3.57,"y":-9},{"x":3.8,"y":-9},{"x":3.95,"y":-8},{"x":4.46,"y":-10.6},
{"x":0,"y":-13},{"x":0.23,"y":-14},{"x":0.46,"y":-13},{"x":0.69,"y":-14},{"x":0.92,"y":-13},{"x":1.15,"y":-14},{"x":1.38,"y":-13},{"x":1.61,"y":-14},{"x":1.84,"y":-13},{"x":2.07,"y":-14},{"x":2.3,"y":-13},{"x":2.53,"y":-14},{"x":2.76,"y":-13},{"x":2.99,"y":-14},{"x":3.22,"y":-13},{"x":3.45,"y":-14},{"x":3.68,"y":-13},{"x":3.9,"y":-14},{"x":4.1,"y":-16.5},
{"x":0.12,"y":-18},{"x":0.35,"y":-18},{"x":0.58,"y":-18},{"x":0.81,"y":-18},{"x":1.04,"y":-18},{"x":1.27,"y":-18},{"x":1.5,"y":-18},{"x":1.73,"y":-18},{"x":1.96,"y":-18},{"x":2.19,"y":-18},{"x":2.42,"y":-18},{"x":2.65,"y":-18},{"x":2.88,"y":-18},{"x":3.11,"y":-18},{"x":3.34,"y":-18},{"x":3.57,"y":-18},{"x":3.82,"y":-18},
{"x":0,"y":-22},{"x":0.23,"y":-22},{"x":0.46,"y":-23},{"x":0.69,"y":-22},{"x":0.92,"y":-23},{"x":1.15,"y":-22},{"x":1.38,"y":-23},{"x":1.61,"y":-22},{"x":1.84,"y":-23},{"x":2.07,"y":-22},{"x":2.3,"y":-23},{"x":2.53,"y":-22},{"x":2.76,"y":-23},{"x":2.99,"y":-22},{"x":3.22,"y":-23},{"x":3.45,"y":-22},{"x":3.68,"y":-23},
{"x":0.12,"y":-27},{"x":0.35,"y":-27},{"x":0.58,"y":-27},{"x":0.81,"y":-27},{"x":1.04,"y":-27},{"x":1.27,"y":-27},{"x":1.5,"y":-27},{"x":1.73,"y":-27},{"x":1.96,"y":-27},{"x":2.19,"y":-27},{"x":2.42,"y":-27},{"x":2.65,"y":-27},{"x":2.88,"y":-27},{"x":3.11,"y":-27},{"x":3.34,"y":-27},{"x":3.57,"y":-27},{"x":3.8,"y":-27},
{"x":0.06,"y":-31},{"x":0.29,"y":-31},{"x":0.52,"y":-31},{"x":0.75,"y":-31},{"x":0.98,"y":-31},{"x":1.21,"y":-31},{"x":1.44,"y":-31},{"x":1.67,"y":-31},{"x":1.9,"y":-31},{"x":2.13,"y":-31},{"x":2.36,"y":-31},{"x":2.59,"y":-31},{"x":2.82,"y":-31},{"x":3.05,"y":-31},{"x":3.28,"y":-31},{"x":3.51,"y":-31},{"x":3.74,"y":-31},{"x":4.04,"y":-29},{"x":4.4,"y":-29},
{"x":0.12,"y":-36},{"x":0.35,"y":-36},{"x":0.58,"y":-36},{"x":0.81,"y":-36},{"x":1.04,"y":-36},{"x":1.27,"y":-36},{"x":1.5,"y":-36},{"x":1.73,"y":-36},{"x":1.96,"y":-36},{"x":2.19,"y":-36},{"x":2.42,"y":-36},{"x":2.65,"y":-36},{"x":2.88,"y":-36},{"x":3.11,"y":-36},{"x":3.34,"y":-36},{"x":3.57,"y":-36},{"x":3.98,"y":-40},
{"x":0.17,"y":-40},{"x":0.4,"y":-40},{"x":0.63,"y":-40},{"x":0.86,"y":-40},{"x":1.09,"y":-40},{"x":1.32,"y":-40},{"x":1.55,"y":-40},{"x":1.78,"y":-40},{"x":2.01,"y":-40},{"x":2.24,"y":-40},{"x":2.47,"y":-40},{"x":2.7,"y":-40},{"x":2.93,"y":-40},{"x":3.16,"y":-40},{"x":3.39,"y":-40},{"x":3.6,"y":-41},
{"x":0.17,"y":-45},{"x":0.4,"y":-45},{"x":0.63,"y":-45},{"x":0.86,"y":-45},{"x":1.09,"y":-45},{"x":1.32,"y":-45},{"x":1.55,"y":-45},{"x":1.78,"y":-45},{"x":2.01,"y":-45},{"x":2.24,"y":-45},{"x":2.47,"y":-45},{"x":2.7,"y":-45},{"x":2.93,"y":-45},{"x":3.16,"y":-45},{"x":3.36,"y":-45},{"x":3.5,"y":-43},
{"x":0.25,"y":-49},{"x":0.48,"y":-49},{"x":0.71,"y":-49},{"x":0.94,"y":-49},{"x":1.17,"y":-49},{"x":1.4,"y":-49},{"x":1.63,"y":-49},{"x":1.86,"y":-49},{"x":2.09,"y":-49},{"x":2.32,"y":-49},{"x":2.55,"y":-49},{"x":2.78,"y":-49},{"x":3.01,"y":-49},{"x":3.24,"y":-49},{"x":3.93,"y":-49},{"x":4.34,"y":-48},
{"x":0.23,"y":-54},{"x":0.46,"y":-54},{"x":0.69,"y":-54},{"x":0.92,"y":-54},{"x":1.15,"y":-54},{"x":1.38,"y":-54},{"x":1.61,"y":-54},{"x":1.84,"y":-54},{"x":2.07,"y":-54},{"x":2.3,"y":-54},{"x":2.53,"y":-54},{"x":2.76,"y":-54},{"x":2.99,"y":-54},{"x":3.16,"y":-53},{"x":3.75,"y":-54},{"x":3.89,"y":-57.6},
{"x":0.29,"y":-58},{"x":0.52,"y":-58},{"x":0.75,"y":-58},{"x":0.98,"y":-58},{"x":1.21,"y":-58},{"x":1.44,"y":-58},{"x":1.67,"y":-58},{"x":1.9,"y":-58},{"x":2.13,"y":-58},{"x":2.36,"y":-58},{"x":2.59,"y":-58},{"x":2.82,"y":-58},{"x":3.05,"y":-58},{"x":3.27,"y":-58},
{"x":0.29,"y":-63},{"x":0.52,"y":-63},{"x":0.75,"y":-63},{"x":0.98,"y":-63},{"x":1.21,"y":-63},{"x":1.44,"y":-63},{"x":1.67,"y":-63},{"x":1.9,"y":-63},{"x":2.13,"y":-63},{"x":2.36,"y":-63},{"x":2.59,"y":-63},{"x":2.82,"y":-63},{"x":3.05,"y":-63},{"x":3.27,"y":-64},{"x":3.83,"y":-65},{"x":4.29,"y":-65},
{"x":0.34,"y":-68},{"x":0.57,"y":-68},{"x":0.8,"y":-68},{"x":1.03,"y":-68},{"x":1.26,"y":-68},{"x":1.49,"y":-68},{"x":1.72,"y":-68},{"x":1.95,"y":-68},{"x":2.18,"y":-68},{"x":2.41,"y":-68},{"x":2.64,"y":-68},{"x":2.87,"y":-68},{"x":3.1,"y":-68},{"x":3.84,"y":-69},
{"x":0.34,"y":-72},{"x":0.57,"y":-72},{"x":0.8,"y":-72},{"x":1.03,"y":-72},{"x":1.26,"y":-72},{"x":1.49,"y":-72},{"x":1.72,"y":-72},{"x":1.95,"y":-72},{"x":2.18,"y":-72},{"x":2.41,"y":-72},{"x":2.64,"y":-72},{"x":2.87,"y":-72},{"x":3.1,"y":-72},{"x":3.86,"y":-73},{"x":4.26,"y":-74},{"x":4.15,"y":-77},{"x":3.9,"y":-77},
{"x":0.4,"y":-77},{"x":0.63,"y":-77},{"x":0.86,"y":-77},{"x":1.09,"y":-77},{"x":1.32,"y":-77},{"x":1.55,"y":-77},{"x":1.78,"y":-77},{"x":2.01,"y":-77},{"x":2.24,"y":-77},{"x":2.47,"y":-77},{"x":2.7,"y":-77},{"x":2.93,"y":-78},{"x":3.16,"y":-78},{"x":3.35,"y":-78},{"x":3.5,"y":-78},{"x":3.65,"y":-78},{"x":3.8,"y":-80},{"x":4.02,"y":-80},
{"x":0.4,"y":-81},{"x":0.63,"y":-81},{"x":0.86,"y":-81},{"x":1.09,"y":-81},{"x":1.32,"y":-81},{"x":1.55,"y":-81},{"x":1.78,"y":-81},{"x":2.01,"y":-81},{"x":2.24,"y":-81},{"x":2.47,"y":-81},{"x":2.7,"y":-81},{"x":2.93,"y":-81},{"x":3.16,"y":-82},
{"x":0.58,"y":-86},{"x":0.81,"y":-86},{"x":1.04,"y":-86},{"x":1.27,"y":-86},{"x":1.5,"y":-86},{"x":1.73,"y":-86},{"x":1.96,"y":-86},{"x":2.19,"y":-86},{"x":2.42,"y":-86},{"x":2.65,"y":-86},{"x":2.88,"y":-86},{"x":3.05,"y":-86},
{"x":0.7,"y":-90},{"x":0.93,"y":-90},{"x":1.16,"y":-90},{"x":1.39,"y":-90},{"x":1.62,"y":-90},{"x":1.85,"y":-90},{"x":2.08,"y":-90},{"x":2.31,"y":-90},{"x":2.54,"y":-90},{"x":2.77,"y":-90},{"x":2.93,"y":-91},
{"x":0.8,"y":-95},{"x":1.03,"y":-95},{"x":1.26,"y":-95},{"x":1.49,"y":-95},{"x":1.72,"y":-95},{"x":2.15,"y":-95},{"x":2.3,"y":-94},
{"x":0.98,"y":-99},{"x":1.18,"y":-99},{"x":1.42,"y":-99},{"x":1.9,"y":-99},{"x":2.06,"y":-100},
{"x":1.1,"y":-103},{"x":1.3,"y":-103},{"x":1.55,"y":-102},{"x":1.85,"y":-104},{"x":2.04,"y":-104},
{"x":1.27,"y":-107},{"x":1.42,"y":-106},{"x":1.9,"y":-107},{"x":1.35,"y":-110}],
"press":[{"t":0,"v":98726},{"t":0.56,"v":98728},{"t":0.72,"v":98723},{"t":0.79,"v":98713},{"t":0.85,"v":98697},{"t":0.9,"v":98676},{"t":0.98,"v":98649},{"t":1.06,"v":98631},{"t":1.13,"v":98620},{"t":1.21,"v":98616},{"t":1.36,"v":98615},{"t":1.43,"v":98613},{"t":1.55,"v":98613},{"t":1.6,"v":98611},{"t":1.68,"v":98616},{"t":1.75,"v":98621},{"t":1.88,"v":98621},{"t":2,"v":98626},{"t":2.07,"v":98630},{"t":2.15,"v":98631},{"t":2.2,"v":98639},{"t":2.34,"v":98644},{"t":2.4,"v":98643},{"t":2.49,"v":98648},{"t":2.58,"v":98657},{"t":2.67,"v":98670},{"t":2.75,"v":98678},{"t":2.85,"v":98692},{"t":2.96,"v":98709},{"t":3.05,"v":98718},{"t":3.15,"v":98722},{"t":3.24,"v":98724},{"t":3.6,"v":98724},{"t":3.9,"v":98724},{"t":4,"v":98723},{"t":4.07,"v":98729},{"t":4.2,"v":98728},{"t":4.3,"v":98725},{"t":4.45,"v":98725}],
"flow":[{"t":0,"v":0.1},{"t":0.15,"v":0.3},{"t":0.4,"v":-0.3},{"t":0.49,"v":-0.1},{"t":0.56,"v":-2.4},{"t":0.63,"v":-8.2},{"t":0.68,"v":-16.7},{"t":0.735,"v":-27},{"t":0.79,"v":-40},{"t":0.85,"v":-51.6},{"t":0.905,"v":-64},{"t":0.96,"v":-72.7},{"t":1.015,"v":-78.5},{"t":1.07,"v":-81.5},{"t":1.13,"v":-82.1},{"t":1.28,"v":-81.9},{"t":1.39,"v":-81.6},{"t":1.525,"v":-82},{"t":1.6,"v":-81.2},{"t":1.695,"v":-78.2},{"t":1.77,"v":-77},{"t":1.92,"v":-77},{"t":2.015,"v":-75.4},{"t":2.13,"v":-73.3},{"t":2.225,"v":-69},{"t":2.3,"v":-66.6},{"t":2.39,"v":-65.1},{"t":2.52,"v":-65.5},{"t":2.58,"v":-63.2},{"t":2.66,"v":-57.4},{"t":2.75,"v":-51.4},{"t":2.88,"v":-45.2},{"t":2.98,"v":-37.8},{"t":3.05,"v":-27.3},{"t":3.13,"v":-9.3},{"t":3.18,"v":-2},{"t":3.235,"v":1.5},{"t":3.27,"v":1.6},{"t":3.37,"v":0.1},{"t":3.7,"v":0.2},{"t":4.1,"v":0.1},{"t":4.45,"v":0}],
"boxes":[{"x":1335,"x2":1799,"y":1039,"y2":1636,"k":"g"},{"x":2003,"x2":3058,"y":1027,"y2":1660,"k":"g"},{"x":3246,"x2":3710,"y":1050,"y2":1644,"k":"g"},{"x":3282,"x2":3674,"y":1190,"y2":1440,"k":"pink"},{"x":1385,"x2":1749,"y":1096,"y2":1195,"k":"p"},{"x":1385,"x2":1750,"y":1228,"y2":1325,"k":"t"},{"x":1382,"x2":1748,"y":1354,"y2":1453,"k":"h"},{"x":1385,"x2":1750,"y":1483,"y2":1579,"k":"s"}],
"heads":[{"x":2013,"x2":3042,"y":1041,"y2":1154,"k":"o"},{"x":2013,"x2":3042,"y":1421,"y2":1534,"k":"d"}],
"arrows":[{"x":1904,"y":1347},{"x":3153,"y":1338}],
"black":[{"x":1566,"y":1147,"t":"Pressure"},{"x":1566,"y":1277,"t":"Temperature"},{"x":1547,"y":1404,"t":"Humidity"},{"x":1567,"y":1533,"t":"Timestamp"},{"x":3479,"y":1241,"t":"Inhalation"},{"x":3479,"y":1317,"t":"Airflow rate"},{"x":3479,"y":1390,"t":"Profile"}],
"desc":[{"x":2044,"y":1192,"t":"Decision Tree, Random Forest, Extra Trees"},{"x":2044,"y":1253,"t":"Regressor, Support Vector Machine, Gaussian"},{"x":2044,"y":1314,"t":"Process Regressor, AdaBoost, XGBoost, and"},{"x":2044,"y":1375,"t":"GradientBoosting"},{"x":2044,"y":1576,"t":"Voting Ensembles (4), Stacking Ensemble (6),"},{"x":2044,"y":1634,"t":"Blending Ensembles (4)"}],
"white":[{"x":2033,"y":1097,"t":"Base Learner algorithms"},{"x":2033,"y":1477,"t":"Heterogeneous ensemble ML algorithms"}],
"serif":[{"x":2565,"y":977,"t":"AI Techniques"}],"letter":[{"x":1297,"y":947,"t":"(c)"}]},
"vconcat":[
{"spacing":77,"bounds":"flush","hconcat":[
{"width":152,"height":633,"view":{"stroke":null},"title":{"text":"(a)","anchor":"start","font":"Liberation Serif","fontSize":68,"fontWeight":"normal","color":"#111","dx":18,"offset":13,"frame":"bounds"},"data":{"values":[{}]},"mark":"text","encoding":{}},
{"width":815,"height":633,"data":{"name":"a"},"mark":{"type":"point","filled":true,"size":680,"opacity":1,"fill":"#0b88cc","stroke":"#5fb4e0","strokeWidth":1.5},"encoding":{"x":{"field":"x","type":"quantitative","scale":{"domain":[98515,98753.5],"nice":false,"zero":false},"axis":{"title":"Pressure (Pa)","values":[98550,98600,98650,98700,98750],"format":",d"}},"y":{"field":"y","type":"quantitative","scale":{"domain":[-115.2,15.5],"nice":false},"axis":{"title":"Flowrate (L/min)","values":[0,-20,-40,-60,-80,-100],"tickSize":10,"labelPadding":8,"titlePadding":32,"labelExpr":"replace(datum.label,'−','-')"}}}},
{"width":815,"height":633,"data":{"name":"b"},"mark":{"type":"point","filled":true,"size":680,"opacity":1,"fill":"#0b88cc","stroke":"#5fb4e0","strokeWidth":1.5},"encoding":{"x":{"field":"x","type":"quantitative","scale":{"domain":[19.02,27.69],"nice":false,"zero":false},"axis":{"title":"Temperature (°C)","values":[20,22,24,26],"format":"d"}},"y":{"field":"y","type":"quantitative","scale":{"domain":[-115.2,15.5],"nice":false},"axis":null}}},
{"width":815,"height":633,"data":{"name":"c"},"mark":{"type":"point","filled":true,"size":680,"opacity":1,"fill":"#0b88cc","stroke":"#5fb4e0","strokeWidth":1.5},"encoding":{"x":{"field":"x","type":"quantitative","scale":{"domain":[22.26,91.45],"nice":false,"zero":false},"axis":{"title":"Humidity (%)","values":[30,40,50,60,70,80,90],"format":"d"}},"y":{"field":"y","type":"quantitative","scale":{"domain":[-115.2,15.5],"nice":false},"axis":null}}},
{"width":815,"height":633,"data":{"name":"d"},"mark":{"type":"point","filled":true,"size":680,"opacity":1,"fill":"#0b88cc","stroke":"#5fb4e0","strokeWidth":1.5},"encoding":{"x":{"field":"x","type":"quantitative","scale":{"domain":[-0.36,7.35],"nice":false,"zero":false},"axis":{"title":"Time (s)","values":[0,2,4,6],"format":"d"}},"y":{"field":"y","type":"quantitative","scale":{"domain":[-115.2,15.5],"nice":false},"axis":null}}}
]},
{"spacing":77,"bounds":"flush","resolve":{"scale":{"color":"independent"},"legend":{"color":"independent"}},"hconcat":[
{"width":180,"height":626,"view":{"stroke":null},"title":{"text":"(b)","anchor":"start","font":"Liberation Serif","fontSize":68,"fontWeight":"normal","color":"#111","dx":20,"offset":32,"frame":"bounds"},"data":{"values":[{}]},"mark":"text","encoding":{}},
{"width":808,"height":626,"view":{"stroke":"#666","strokeWidth":3},"resolve":{"scale":{"y":"independent"}},"layer":[
{"data":{"name":"press"},"mark":{"type":"line","strokeWidth":7,"interpolate":"monotone"},"encoding":{"x":{"field":"t","type":"quantitative","scale":{"domain":[0,4.5],"nice":false},"axis":{"title":"Time (s)","values":[0,1,2,3,4],"format":"d","labelFontSize":33,"titleFontSize":37,"labelColor":"#333","titleColor":"#333","tickSize":10,"labelPadding":10,"titlePadding":10}},"y":{"field":"v","type":"quantitative","scale":{"domain":[98300,98750],"nice":false,"zero":false},"axis":{"title":"Pressure (Pa)","values":[98300,98350,98400,98450,98500,98550,98600,98650,98700,98750],"format":",d","labelColor":"#ffa033","titleColor":"#ff9a2e","labelFontSize":33,"titleFontSize":36,"tickSize":10,"labelPadding":8,"titlePadding":8}},"color":{"datum":"Pressure","scale":{"domain":["Pressure","Reference Flowrate"],"range":["#ff8c0a","#037f1c"]},"legend":{"orient":"none","title":null,"legendX":349,"legendY":493,"symbolType":"stroke","symbolStrokeWidth":7,"symbolSize":5300,"labelFontSize":32,"labelColor":"#333","labelLimit":400,"fillColor":"white","strokeColor":"#ddd","cornerRadius":6,"padding":12,"rowPadding":-21,"labelOffset":26}}}},
{"data":{"name":"flow"},"mark":{"type":"line","strokeWidth":7,"interpolate":"monotone"},"encoding":{"x":{"field":"t","type":"quantitative"},"y":{"field":"v","type":"quantitative","scale":{"domain":[-100,4.86],"nice":false},"axis":{"orient":"right","title":"Reference Flowrate (L/min)","values":[0,-20,-40,-60,-80,-100],"format":"d","labelColor":"#00a94f","titleColor":"#00a94f","labelFontSize":32,"titleFontSize":36,"tickSize":10,"labelPadding":12,"titlePadding":10}},"color":{"datum":"Reference Flowrate"}}}]},
{"width":2600,"height":626,"view":{"stroke":null},"layer":[
{"data":{"name":"boxes"},"mark":{"type":"rect"},"encoding":{"x":{"field":"x","type":"quantitative","scale":{"domain":[1141,3741],"nice":false,"zero":false},"axis":null},"x2":{"field":"x2"},"y":{"field":"y","type":"quantitative","scale":{"domain":[1600,974],"nice":false,"zero":false},"axis":null},"y2":{"field":"y2"},"color":{"field":"k","type":"nominal","scale":{"domain":["g","pink","p","t","h","s","o","d"],"range":["#f2f2f2","#f669cf","#ffe4d8","#aeefc6","#ffd0f0","#b9eefe","#ff7125","#006812"]},"legend":null}}},
{"data":{"name":"heads"},"mark":{"type":"rect","cornerRadius":20},"encoding":{"x":{"field":"x","type":"quantitative"},"x2":{"field":"x2"},"y":{"field":"y","type":"quantitative"},"y2":{"field":"y2"},"color":{"field":"k","type":"nominal","legend":null}}},
{"data":{"name":"arrows"},"mark":{"type":"point","filled":true,"opacity":1,"size":23104,"fill":"#afbdc6","strokeWidth":0,"shape":"M-1,-.467L.21,-.467L.21,-.895L1,0L.21,.895L.21,.467L-1,.467Z"},"encoding":{"x":{"field":"x","type":"quantitative"},"y":{"field":"y","type":"quantitative"}}},
{"data":{"name":"black"},"mark":{"type":"text","font":"Lato","fontSize":51,"fill":"#000"},"encoding":{"x":{"field":"x","type":"quantitative"},"y":{"field":"y","type":"quantitative"},"text":{"field":"t"}}},
{"data":{"name":"desc"},"mark":{"type":"text","font":"Lato","fontSize":43,"fill":"#444","align":"left"},"encoding":{"x":{"field":"x","type":"quantitative"},"y":{"field":"y","type":"quantitative"},"text":{"field":"t"}}},
{"data":{"name":"white"},"mark":{"type":"text","font":"Lato","fontSize":50.5,"fill":"#fff","align":"left"},"encoding":{"x":{"field":"x","type":"quantitative"},"y":{"field":"y","type":"quantitative"},"text":{"field":"t"}}},
{"data":{"name":"serif"},"mark":{"type":"text","font":"Liberation Serif","fontSize":56,"fontWeight":"bold","fill":"#000"},"encoding":{"x":{"field":"x","type":"quantitative"},"y":{"field":"y","type":"quantitative"},"text":{"field":"t"}}},
{"data":{"name":"letter"},"mark":{"type":"text","font":"Liberation Serif","fontSize":66,"fill":"#111"},"encoding":{"x":{"field":"x","type":"quantitative"},"y":{"field":"y","type":"quantitative"},"text":{"field":"t"}}}
]}
]}
]}
